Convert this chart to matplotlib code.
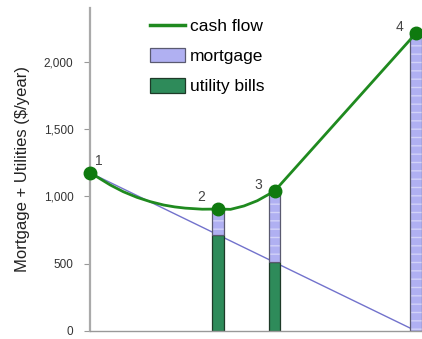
import numpy as np
import matplotlib.pyplot as plt
from matplotlib.lines import Line2D
from matplotlib.patches import Patch

plt.rcParams['font.family'] = ['Liberation Sans', 'DejaVu Sans']

# cash flow curve, sampled along the stages
cash_x = [0.0, 0.021, 0.062, 0.102, 0.144, 0.185, 0.226, 0.26, 0.292, 0.344, 0.392,
          0.431, 0.472, 0.513, 0.544, 0.566, 1.0]
cash_y = [1176, 1146, 1085, 1035, 993, 961, 936, 922, 913, 905, 906,
          904, 929, 968, 1010, 1040, 2214]

# stacked bars at stages 2, 3 and 4
bar_x = [0.392, 0.566, 1.0]
utility = [717, 510, 0]
mortgage = [189, 530, 2214]

# utility bills trend line
trend_x = [0.0, 1.0]
trend_y = [1176, 0]

point_x = [0.0] + bar_x
point_y = [1176] + [u + m for u, m in zip(utility, mortgage)]
point_labels = ['1', '2', '3', '4']

green = '#1f8a1f'
mort_color = '#b0b0f2'
util_color = '#2e8b5a'

fig = plt.figure(figsize=(4.22, 3.39), dpi=100)
ax = fig.add_axes([0.2133, 0.0236, 0.7867, 0.9528])

ax.plot(trend_x, trend_y, color='#7272cc', lw=1.0, zorder=1)

w = 0.036
ax.bar(bar_x, utility, width=w, color=util_color, edgecolor='#1e3a28', lw=0.9, zorder=2)
ax.bar(bar_x, mortgage, width=w, bottom=utility, color=mort_color, edgecolor='#d2d2f8',
       hatch='--', lw=0, zorder=2)
ax.bar(bar_x, mortgage, width=w, bottom=utility, fill=False, edgecolor='#5a5a70', lw=0.9, zorder=2)

ax.plot(cash_x, cash_y, color=green, lw=2.0, zorder=3, solid_capstyle='round')
ax.plot(point_x, point_y, 'o', color='#0f7a0f', ms=9, zorder=4, clip_on=False)

offsets = [(6.5, 8.5), (-12, 9), (-12, 4), (-12, 4.5)]
for x, y, lab, (dx, dy) in zip(point_x, point_y, point_labels, offsets):
    ax.annotate(lab, (x, y), xytext=(dx, dy), textcoords='offset points',
                fontsize=10, color='#444444', ha='center', va='center')

ax.set_xlim(0, 1.018)
ax.set_ylim(0, 2400)
ax.set_xticks([])
ax.set_yticks([0, 500, 1000, 1500, 2000])
ax.set_yticklabels(['0', '500', '1,000', '1,500', '2,000'])
ax.tick_params(axis='y', direction='out', length=4, color='#999999', labelsize=8.5,
               labelcolor='#333333', pad=8)
for s in ['top', 'right']:
    ax.spines[s].set_visible(False)
ax.spines['left'].set_color('#aaaaaa')
ax.spines['left'].set_linewidth(1.6)
ax.spines['bottom'].set_color('#999999')
ax.spines['bottom'].set_linewidth(1.0)
ax.set_ylabel('Mortgage + Utilities ($/year)', fontsize=12, color='#222222', labelpad=10)

handles = [
    Line2D([0], [0], color=green, lw=2.5),
    Patch(facecolor=mort_color, edgecolor='#5a5a70', lw=0.9),
    Patch(facecolor=util_color, edgecolor='#1e3a28', lw=0.9),
]
fig.legend(handles, ['cash flow', 'mortgage', 'utility bills'], loc='upper left',
           bbox_to_anchor=(150 / 422, 1 - 18 / 339), frameon=False, fontsize=12.5,
           borderpad=0, borderaxespad=0, handlelength=2.0, handleheight=0.9,
           handletextpad=0.3, labelspacing=0.8)

fig.savefig('out.png', dpi=100)
